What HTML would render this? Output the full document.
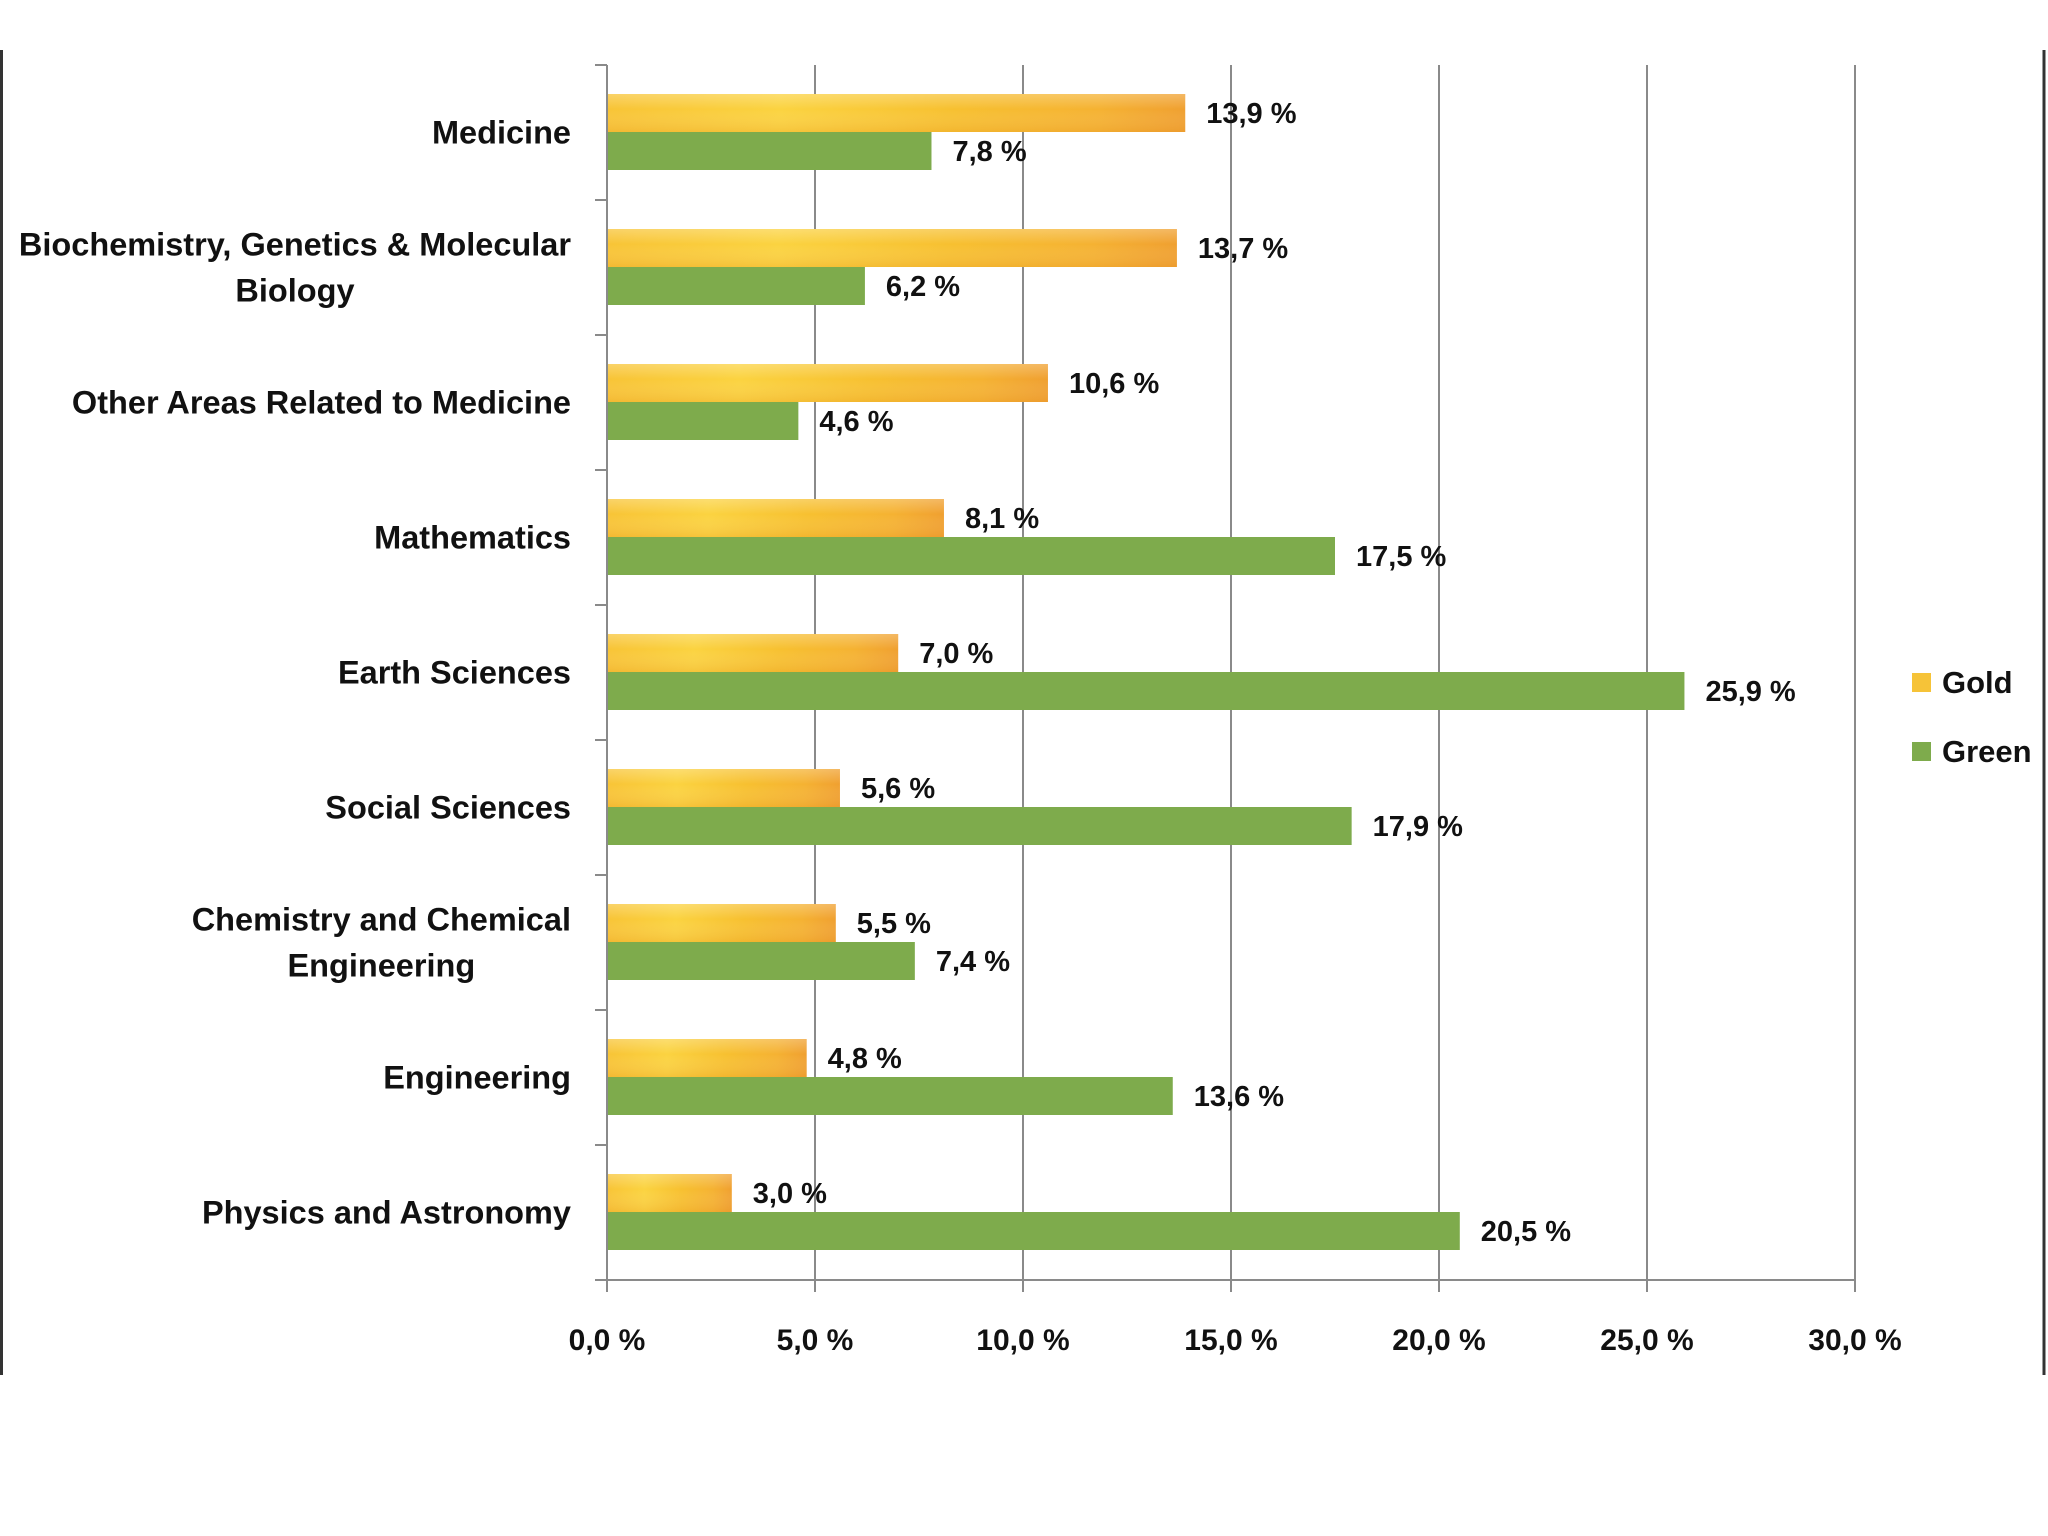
<!DOCTYPE html>
<html><head><meta charset="utf-8">
<style>
html,body{margin:0;padding:0;background:#fff;}
svg{display:block;}
text{font-family:"Liberation Sans",sans-serif;font-weight:bold;fill:#111;}
</style></head>
<body>
<svg id="chart" width="2048" height="1536" viewBox="0 0 2048 1536" xmlns="http://www.w3.org/2000/svg">
<defs>
<linearGradient id="goldGrad" x1="0" y1="0" x2="1" y2="0">
<stop offset="0" stop-color="#f8c436"/>
<stop offset="0.3" stop-color="#fbd340"/>
<stop offset="0.6" stop-color="#f7c030"/>
<stop offset="0.85" stop-color="#f5b232"/>
<stop offset="1" stop-color="#f0a030"/>
</linearGradient>
<linearGradient id="goldV" x1="0" y1="0" x2="0" y2="1">
<stop offset="0" stop-color="#fff" stop-opacity="0.25"/>
<stop offset="0.4" stop-color="#fff" stop-opacity="0"/>
<stop offset="1" stop-color="#e08a20" stop-opacity="0.2"/>
</linearGradient>
</defs>
<line x1="1.5" y1="50" x2="1.5" y2="1375" stroke="#333" stroke-width="3"/>
<line x1="2044" y1="50" x2="2044" y2="1375" stroke="#333" stroke-width="3"/>
<g id="grid"></g>
<g id="bars"></g>
<g id="axes"></g>
<g id="labels"></g>
<g>
<rect x="1912" y="673" width="19" height="19" fill="#f6c338"/>
<text x="1942" y="693" font-size="31">Gold</text>
<rect x="1912" y="742" width="19" height="19" fill="#7eab4c"/>
<text x="1942" y="762" font-size="31">Green</text>
</g>
</svg>
<script>
const categories = [
  ["Medicine"],
  ["Biochemistry, Genetics & Molecular","Biology"],
  ["Other Areas Related to Medicine"],
  ["Mathematics"],
  ["Earth Sciences"],
  ["Social Sciences"],
  ["Chemistry and Chemical","Engineering"],
  ["Engineering"],
  ["Physics and Astronomy"]
];
const goldValues = [13.9, 13.7, 10.6, 8.1, 7.0, 5.6, 5.5, 4.8, 3.0];
const greenValues = [7.8, 6.2, 4.6, 17.5, 25.9, 17.9, 7.4, 13.6, 20.5];
const xTicks = [0, 5, 10, 15, 20, 25, 30];

const NS = "http://www.w3.org/2000/svg";
const X0 = 607, X1 = 1855, XMAX = 30, TOP = 65, BOTTOM = 1280;
const band = (BOTTOM - TOP) / categories.length;
function xs(v){ return X0 + (X1 - X0) * v / XMAX; }
function ys(i){ return TOP + band * i; }
function fmt(v){ return v.toFixed(1).replace('.', ',') + ' %'; }
function mk(tag, attrs, parent){
  const e = document.createElementNS(NS, tag);
  for (const k in attrs) e.setAttribute(k, attrs[k]);
  parent.appendChild(e);
  return e;
}
const grid = document.getElementById('grid');
const bars = document.getElementById('bars');
const axes = document.getElementById('axes');
const labels = document.getElementById('labels');

xTicks.forEach(t => {
  if (t > 0) {
    const g = mk('line', {x1: xs(t), y1: TOP, x2: xs(t), y2: BOTTOM, stroke: '#8a8a8a', 'stroke-width': 2}, grid);
    
    
  }
  const tk = mk('line', {x1: xs(t), y1: BOTTOM, x2: xs(t), y2: BOTTOM + 12, stroke: '#8a8a8a', 'stroke-width': 2}, axes);
  
  
  const tl = mk('text', {x: xs(t), y: BOTTOM + 70, 'font-size': 30, 'text-anchor': 'middle'}, labels);
  tl.textContent = fmt(t);
  
  
});

const xa = mk('line', {x1: X0 - 12, y1: BOTTOM, x2: X1, y2: BOTTOM, stroke: '#8a8a8a', 'stroke-width': 2}, axes);


const ya = mk('line', {x1: X0, y1: TOP, x2: X0, y2: BOTTOM, stroke: '#8a8a8a', 'stroke-width': 2}, axes);



for (let i = 0; i <= categories.length; i++) {
  const yt = mk('line', {x1: X0 - 12, y1: ys(i), x2: X0, y2: ys(i), stroke: '#8a8a8a', 'stroke-width': 2}, axes);
  
  
}

const barOff = 29, barH = 38;
categories.forEach((cat, i) => {
  const y = ys(i);
  const gy = y + barOff, ny = y + barOff + barH;
  const gb = mk('rect', {x: X0, y: gy, width: xs(goldValues[i]) - X0, height: barH, fill: 'url(#goldGrad)'}, bars);
  
  
  const gs = mk('rect', {x: X0, y: gy, width: xs(goldValues[i]) - X0, height: barH, fill: 'url(#goldV)'}, bars);
  
  
  const nb = mk('rect', {x: X0, y: ny, width: xs(greenValues[i]) - X0, height: barH, fill: '#7eab4c'}, bars);
  
  

  const gl = mk('text', {x: xs(goldValues[i]) + 21, y: gy + barH/2 + 10, 'font-size': 29}, labels);
  gl.textContent = fmt(goldValues[i]);
  
  
  const nl = mk('text', {x: xs(greenValues[i]) + 21, y: ny + barH/2 + 10, 'font-size': 29}, labels);
  nl.textContent = fmt(greenValues[i]);
  
  

  const cy = y + band/2;
  if (cat.length === 1) {
    const t = mk('text', {x: 571, y: cy + 11, 'font-size': 32.5, 'text-anchor': 'end'}, labels);
    t.textContent = cat[0];
    
    
  } else {
    const t = mk('text', {x: 571, y: cy - 23 + 11, 'font-size': 32.5, 'text-anchor': 'end'}, labels);
    t.textContent = cat[0];
    
    
    const w = t.getComputedTextLength();
    const t2 = mk('text', {x: 571 - w/2, y: cy + 23 + 11, 'font-size': 32.5, 'text-anchor': 'middle'}, labels);
    t2.textContent = cat[1];
    
    
  }
});
</script>
</body></html>
